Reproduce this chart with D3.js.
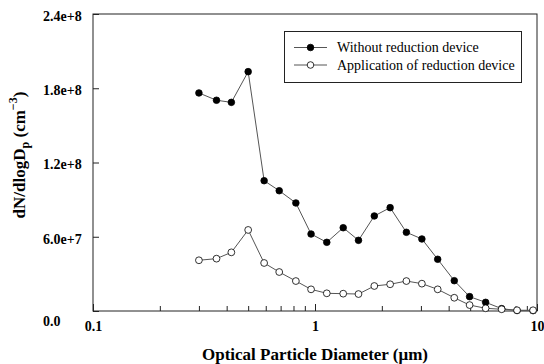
<!DOCTYPE html>
<html>
<head>
<meta charset="utf-8">
<script src="https://cdn.jsdelivr.net/npm/d3@7"></script>
<style>
  html, body { margin: 0; padding: 0; background: #fff; }
  svg { display: block; }
</style>
</head>
<body>
<svg id="chart" width="544" height="364"></svg>
<script>
// ---- data ----
const diameters = [0.30, 0.36, 0.42, 0.50, 0.59, 0.69, 0.82, 0.96, 1.13, 1.34, 1.57, 1.85, 2.18, 2.58, 3.03, 3.57, 4.24, 4.97, 5.87, 6.93, 8.13, 9.60];
const withoutDevice = [1.762e8, 1.703e8, 1.686e8, 1.934e8, 1.053e8, 9.72e7, 8.73e7, 6.22e7, 5.55e7, 6.73e7, 5.71e7, 7.68e7, 8.35e7, 6.36e7, 5.82e7, 4.18e7, 2.45e7, 1.16e7, 7.0e6, 1.9e6, 4e5, 3e5];
const withDevice    = [4.10e7, 4.23e7, 4.74e7, 6.55e7, 3.88e7, 3.15e7, 2.42e7, 1.75e7, 1.43e7, 1.40e7, 1.37e7, 2.02e7, 2.16e7, 2.42e7, 2.21e7, 1.75e7, 1.07e7, 4.8e6, 2.2e6, 1.4e6, 6e5, 6e5];
const seriesNames = ["Without reduction device", "Application of reduction device"];
const xMajorTicks = [0.1, 1, 10];
const xTickLabels = ["0.1", "1", "10"];
const yTicks = [0, 6e7, 1.2e8, 1.8e8, 2.4e8];
const yTickLabels = ["0.0", "6.0e+7", "1.2e+8", "1.8e+8", "2.4e+8"];

// ---- layout ----
const FONT = "Liberation Serif";
const L = 93, R = 537, T = 14, B = 311;
const svg = d3.select("#chart");
const x = d3.scaleLog().domain([0.1, 10]).range([L, R]);
const y = d3.scaleLinear().domain([0, 2.4e8]).range([B, T]);
const axisColor = "#222";
const lineColor = "#555";

// frame
svg.append("rect").attr("x", L).attr("y", T).attr("width", R - L).attr("height", B - T)
  .attr("fill", "none").attr("stroke", axisColor).attr("stroke-width", 1);

// x minor ticks
const xMinor = svg.append("g").attr("transform", `translate(0,${B})`)
  .call(d3.axisBottom(x).tickValues(x.ticks()).tickSize(-5).tickFormat(""));
xMinor.select(".domain").remove();
xMinor.selectAll("line").attr("stroke", axisColor);

// x major ticks + labels
const xMajor = svg.append("g").attr("transform", `translate(0,${B})`)
  .call(d3.axisBottom(x).tickValues(xMajorTicks).tickSize(-7).tickPadding(10)
    .tickFormat((d, i) => xTickLabels[i]));
xMajor.attr("font-family", FONT).attr("font-size", 14).attr("font-weight", "bold");
xMajor.select(".domain").remove();
xMajor.selectAll("line").attr("stroke", axisColor);
xMajor.selectAll("text").attr("fill", "#000");

// y axis
const yAx = svg.append("g").attr("transform", `translate(${L},0)`)
  .call(d3.axisLeft(y).tickValues(yTicks).tickSize(-6).tickFormat((d, i) => yTickLabels[i]));
yAx.attr("font-family", FONT).attr("font-size", 14).attr("font-weight", "bold");
yAx.select(".domain").remove();
yAx.selectAll("line").attr("stroke", axisColor);
yAx.selectAll("text").attr("fill", "#000")
  .attr("text-anchor", "start").attr("x", 43 - L)
  .attr("dy", d => d === 0 ? "1.05em" : "0.45em");

// axis titles
svg.append("text").attr("x", 315).attr("y", 360).attr("text-anchor", "middle")
  .attr("font-family", FONT).attr("font-size", 17).attr("font-weight", "bold")
  .text("Optical Particle Diameter (\u03bcm)");

const yt = svg.append("text").attr("transform", "translate(25,155) rotate(-90)")
  .attr("text-anchor", "middle").attr("font-family", FONT).attr("font-size", 17).attr("font-weight", "bold");
yt.append("tspan").text("dN/dlogD");
yt.append("tspan").attr("font-size", 12).attr("dy", 4).text("p");
yt.append("tspan").attr("dy", -4).text(" (cm");
yt.append("tspan").attr("font-size", 12).attr("dy", -8).text("\u22123");
yt.append("tspan").attr("dy", 8).text(")");

// series
const lineGen = d3.line().x(d => x(d[0])).y(d => y(d[1]));
const s1 = diameters.map((d, i) => [d, withoutDevice[i]]);
const s2 = diameters.map((d, i) => [d, withDevice[i]]);

svg.append("path").datum(s1).attr("d", lineGen).attr("fill", "none").attr("stroke", lineColor).attr("stroke-width", 1);
svg.selectAll("circle.s1").data(s1).enter().append("circle").attr("class", "s1")
  .attr("cx", d => x(d[0])).attr("cy", d => y(d[1])).attr("r", 3.3)
  .attr("fill", "#000").attr("stroke", "#000").attr("stroke-width", 0.8);

svg.append("path").datum(s2).attr("d", lineGen).attr("fill", "none").attr("stroke", lineColor).attr("stroke-width", 1);
svg.selectAll("circle.s2").data(s2).enter().append("circle").attr("class", "s2")
  .attr("cx", d => x(d[0])).attr("cy", d => y(d[1])).attr("r", 3.4)
  .attr("fill", "#fff").attr("stroke", "#000").attr("stroke-width", 0.8);

// legend
const lg = svg.append("g");
lg.append("rect").attr("x", 284.5).attr("y", 31.5).attr("width", 237).attr("height", 51)
  .attr("fill", "#fff").attr("stroke", axisColor).attr("stroke-width", 1);
const rows = [{ y: 47.5, fill: "#000" }, { y: 65, fill: "#fff" }];
rows.forEach((r, i) => {
  lg.append("line").attr("x1", 294).attr("x2", 327).attr("y1", r.y).attr("y2", r.y)
    .attr("stroke", lineColor).attr("stroke-width", 1);
  lg.append("circle").attr("cx", 310.5).attr("cy", r.y).attr("r", 3.3)
    .attr("fill", r.fill).attr("stroke", "#000").attr("stroke-width", 0.8);
  lg.append("text").attr("x", 337).attr("y", r.y + 4.8).attr("font-size", 14)
    .attr("font-family", FONT).text(seriesNames[i]);
});
</script>
</body>
</html>
